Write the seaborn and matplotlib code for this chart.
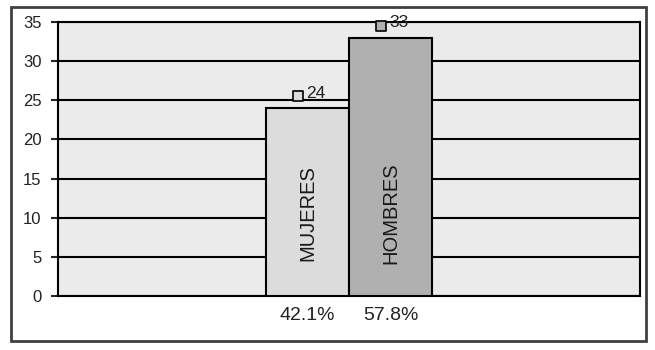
import matplotlib
matplotlib.use("Agg")
import matplotlib.pyplot as plt
from matplotlib.patches import Rectangle
import seaborn as sns

categorias = ["MUJERES", "HOMBRES"]
valores = [24, 33]
porcentajes = ["42.1%", "57.8%"]
colores = ["#dcdcdc", "#b0b0b0"]

sns.set_style("white")
plt.rcParams["font.family"] = ["Liberation Sans", "DejaVu Sans"]

fig = plt.figure(figsize=(6.55, 3.5), dpi=100)
fig.patch.set_facecolor("white")
ax = fig.add_axes([58 / 655, 54 / 350, 582 / 655, 274 / 350])
ax.set_facecolor("#ebebeb")

sns.barplot(x=categorias, y=valores, hue=categorias, palette=colores,
            legend=False, width=1.0, edgecolor="black", linewidth=1.5,
            ax=ax, zorder=3)

ax.set_xlim(-3, 4)
ax.set_ylim(0, 35)
ax.set_yticks(range(0, 36, 5))
ax.yaxis.grid(True, color="black", linewidth=1.5, zorder=1)
ax.set_axisbelow(True)
for s in ax.spines.values():
    s.set_color("black")
    s.set_linewidth(1.5)

ax.set_xticks(range(len(categorias)))
ax.set_xticklabels(porcentajes, fontsize=14, color="#222222")
ax.tick_params(axis="x", length=0, pad=8)
ax.tick_params(axis="y", length=5, width=1.5, pad=7, labelsize=12,
               labelcolor="#222222", left=True)
ax.set_xlabel("")
ax.set_ylabel("")

# etiquetas de valor con su clave de leyenda
for i, (v, c) in enumerate(zip(valores, colores)):
    ax.scatter(i - 0.11, v + 1.5, marker="s", s=55, color=c,
               edgecolor="black", linewidth=1.2, zorder=5, clip_on=False)
    ax.text(i - 0.02, v + 1.9, str(v), fontsize=12.5, color="#222222",
            ha="left", va="center", zorder=5)
    ax.text(i, 10.6, categorias[i], rotation=90, ha="center", va="center",
            fontsize=14.5, color="#1a1a1a", zorder=5)

fig.patches.append(Rectangle((11 / 655, 9 / 350), 635 / 655, 334 / 350,
                             transform=fig.transFigure, fill=False,
                             edgecolor="#404040", linewidth=2))

fig.savefig("out.png", dpi=100)
